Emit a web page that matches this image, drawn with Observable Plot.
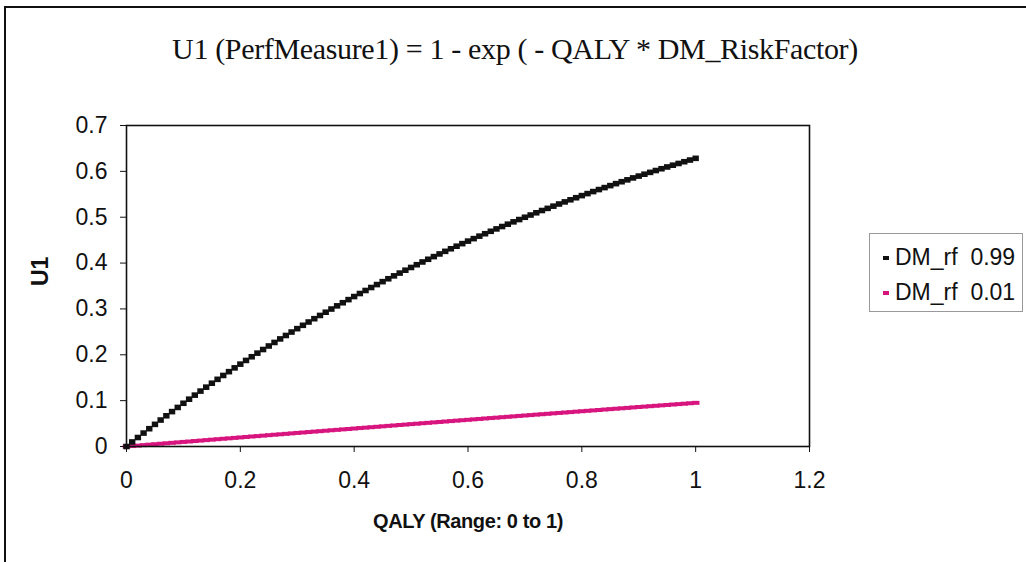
<!DOCTYPE html>
<html>
<head>
<meta charset="utf-8">
<script src="https://cdn.jsdelivr.net/npm/d3@7"></script>
<script src="https://cdn.jsdelivr.net/npm/@observablehq/plot@0.6"></script>
<style>
  html, body { margin: 0; padding: 0; background: #fff; }
  #wrap { position: relative; width: 1026px; height: 562px; overflow: hidden; background: #fff; }
  #frameLines { position: absolute; left: 4px; top: 6px; width: 1030px; height: 570px; border-top: 2px solid #111; border-left: 2px solid #111; box-sizing: border-box; pointer-events: none; }
  #title { position: absolute; left: 0; width: 1030px; top: 32px; text-align: center; font-family: "Liberation Serif", "Times New Roman", serif; font-size: 30px; color: #111; white-space: nowrap; letter-spacing: -0.35px; }
  #chart { position: absolute; left: 0; top: 0; }
  #legend { position: absolute; left: 869px; top: 233px; width: 154px; height: 79px; box-sizing: border-box; border: 1px solid #999; font-family: "Liberation Sans", Arial, sans-serif; font-size: 23px; color: #111; }
  .item { position: absolute; left: 13px; white-space: pre; }
  .sw { display: inline-block; width: 6px; height: 4px; vertical-align: middle; margin-right: 6px; position: relative; top: -1px; }
  .xlab text { letter-spacing: -0.4px; }
</style>
</head>
<body>
<div id="wrap">
  <div id="chart"></div>
  <div id="frameLines"></div>
  <div id="title">U1 (PerfMeasure1) = 1 - exp ( - QALY * DM_RiskFactor)</div>
  <div id="legend"></div>
</div>
<script>
// QALY values (x)
const qaly = [0,0.01,0.02,0.03,0.04,0.05,0.06,0.07,0.08,0.09,
  0.10,0.11,0.12,0.13,0.14,0.15,0.16,0.17,0.18,0.19,
  0.20,0.21,0.22,0.23,0.24,0.25,0.26,0.27,0.28,0.29,
  0.30,0.31,0.32,0.33,0.34,0.35,0.36,0.37,0.38,0.39,
  0.40,0.41,0.42,0.43,0.44,0.45,0.46,0.47,0.48,0.49,
  0.50,0.51,0.52,0.53,0.54,0.55,0.56,0.57,0.58,0.59,
  0.60,0.61,0.62,0.63,0.64,0.65,0.66,0.67,0.68,0.69,
  0.70,0.71,0.72,0.73,0.74,0.75,0.76,0.77,0.78,0.79,
  0.80,0.81,0.82,0.83,0.84,0.85,0.86,0.87,0.88,0.89,
  0.90,0.91,0.92,0.93,0.94,0.95,0.96,0.97,0.98,0.99,1.00];

// U1 for DM_rf 0.99
const u1High = [0,0.0099,0.0196,0.0293,0.0388,0.0483,0.0577,0.0670,0.0761,0.0852,
  0.0943,0.1032,0.1120,0.1208,0.1294,0.1380,0.1465,0.1549,0.1632,0.1715,
  0.1796,0.1877,0.1957,0.2036,0.2115,0.2192,0.2269,0.2346,0.2421,0.2496,
  0.2570,0.2643,0.2715,0.2787,0.2858,0.2928,0.2998,0.3067,0.3135,0.3203,
  0.3270,0.3336,0.3402,0.3467,0.3531,0.3595,0.3658,0.3721,0.3782,0.3844,
  0.3904,0.3964,0.4024,0.4083,0.4141,0.4199,0.4256,0.4312,0.4368,0.4424,
  0.4479,0.4533,0.4587,0.4640,0.4693,0.4745,0.4797,0.4848,0.4899,0.4949,
  0.4999,0.5048,0.5097,0.5146,0.5193,0.5241,0.5288,0.5334,0.5380,0.5425,
  0.5471,0.5515,0.5559,0.5603,0.5646,0.5689,0.5732,0.5774,0.5815,0.5857,
  0.5897,0.5938,0.5978,0.6018,0.6057,0.6096,0.6134,0.6172,0.6210,0.6247,0.6284];

// U1 for DM_rf 0.01
const u1Low = [0,0.0010,0.0020,0.0030,0.0040,0.0050,0.0060,0.0070,0.0080,0.0090,
  0.0100,0.0109,0.0119,0.0129,0.0139,0.0149,0.0159,0.0169,0.0178,0.0188,
  0.0198,0.0208,0.0218,0.0227,0.0237,0.0247,0.0257,0.0266,0.0276,0.0286,
  0.0296,0.0305,0.0315,0.0325,0.0334,0.0344,0.0354,0.0363,0.0373,0.0382,
  0.0392,0.0402,0.0411,0.0421,0.0430,0.0440,0.0450,0.0459,0.0469,0.0478,
  0.0488,0.0497,0.0507,0.0516,0.0526,0.0535,0.0545,0.0554,0.0564,0.0573,
  0.0582,0.0592,0.0601,0.0611,0.0620,0.0629,0.0639,0.0648,0.0657,0.0667,
  0.0676,0.0685,0.0695,0.0704,0.0713,0.0723,0.0732,0.0741,0.0750,0.0760,
  0.0769,0.0778,0.0787,0.0796,0.0806,0.0815,0.0824,0.0833,0.0842,0.0852,
  0.0861,0.0870,0.0879,0.0888,0.0897,0.0906,0.0915,0.0924,0.0933,0.0943,0.0952];

const seriesNames = ["DM_rf  0.99", "DM_rf  0.01"];
const seriesColors = ["#111111", "#d8157f"];
const xTicks = [0, 0.2, 0.4, 0.6, 0.8, 1, 1.2];
const yTicks = [0, 0.1, 0.2, 0.3, 0.4, 0.5, 0.6, 0.7];
const xLabel = "QALY (Range: 0 to 1)";
const yLabel = "U1";

const highData = qaly.map((q, i) => ({x: q, y: u1High[i]}));
const lowData = qaly.map((q, i) => ({x: q, y: u1Low[i]}));

const dashSymbol = {
  draw(ctx) {
    ctx.moveTo(-3.8, -2); ctx.lineTo(3.8, -2); ctx.lineTo(3.8, 2); ctx.lineTo(-3.8, 2); ctx.closePath();
  }
};
const squareSymbol = {
  draw(ctx) {
    ctx.moveTo(-3.2, -2.8); ctx.lineTo(3.2, -2.8); ctx.lineTo(3.2, 2.8); ctx.lineTo(-3.2, 2.8); ctx.closePath();
  }
};
const fmt = d => String(+d.toFixed(1));

const chart = Plot.plot({
  width: 1026,
  height: 562,
  marginLeft: 126,
  marginRight: 217,
  marginTop: 125,
  marginBottom: 116,
  style: {fontFamily: "'Liberation Sans', Arial, sans-serif", fontSize: "23px", color: "#111", background: "transparent"},
  x: {domain: [0, 1.2]},
  y: {domain: [0, 0.7]},
  marks: [
    Plot.dot(lowData, {x: "x", y: "y", symbol: dashSymbol, fill: seriesColors[1], stroke: "none"}),
    Plot.dot(highData, {x: "x", y: "y", symbol: squareSymbol, fill: seriesColors[0], stroke: "none"}),
    Plot.frame({stroke: "#111", strokeWidth: 1.6}),
    Plot.axisX({ticks: xTicks, tickFormat: fmt, tickSize: 6, tickPadding: 19, fontSize: 23, label: null, stroke: "#111"}),
    Plot.axisY({ticks: yTicks, tickFormat: fmt, tickSize: 6, tickPadding: 13, fontSize: 23, label: null, stroke: "#111"}),
    Plot.text([xLabel], {frameAnchor: "bottom", dy: 81, fontSize: 20, fontWeight: "bold", fill: "#111", className: "xlab"}),
    Plot.text([yLabel], {frameAnchor: "left", dx: -86, rotate: -90, fontSize: 23, fontWeight: "bold", fill: "#111"})
  ]
});
document.getElementById("chart").appendChild(chart);

const legend = document.getElementById("legend");
seriesNames.forEach((name, i) => {
  const div = document.createElement("div");
  div.className = "item";
  div.style.top = (i === 0 ? 10 : 45) + "px";
  const sw = document.createElement("span");
  sw.className = "sw";
  sw.style.background = seriesColors[i];
  div.appendChild(sw);
  div.appendChild(document.createTextNode(name));
  legend.appendChild(div);
});
</script>
</body>
</html>
